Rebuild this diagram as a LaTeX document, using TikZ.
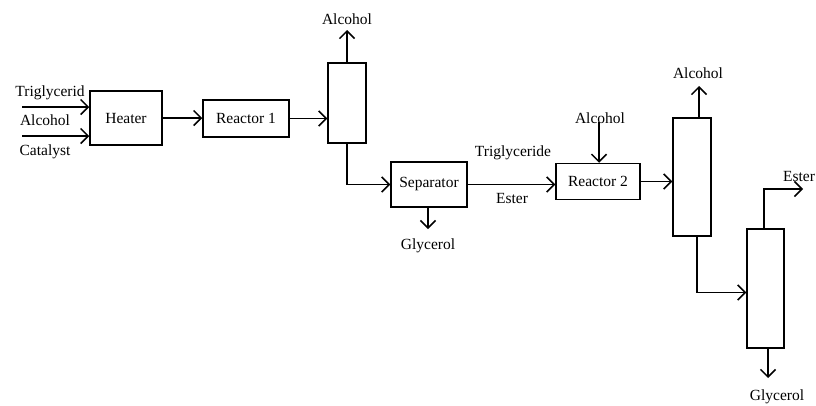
\documentclass[tikz,border=0pt]{standalone}
\usepackage{fontspec}
\setmainfont{Liberation Serif}
\usepackage{tikz}
\usetikzlibrary{positioning, arrows.meta, calc}

\tikzset{
  unit/.style={draw, line width=1.5pt, inner sep=0pt, font=\fontsize{15.5}{18}\selectfont},
  flow/.style={line width=1.5pt, -{Straight Barb[length=7.5pt, width=15pt, line width=1.5pt]}},
  stream/.style={inner sep=0pt, font=\fontsize{15.5}{18}\selectfont},
}

\begin{document}
\begin{tikzpicture}[x=1pt, y=-1pt]
  \useasboundingbox (0,0) rectangle (816,405);

  % units
  \node[unit, minimum width=72pt, minimum height=54pt] (heater) at (126,118) {Heater};
  \node[unit, minimum width=86pt, minimum height=37pt] (rea1) at (246,118.5) {Reactor 1};
  \node[unit, minimum width=38pt, minimum height=80pt] (col1) at (347,103) {};
  \node[unit, minimum width=76pt, minimum height=45pt] (sep) at (429,184.5) {Separator};
  \node[unit, minimum width=84pt, minimum height=36pt] (rea2) at (598,181.5) {Reactor 2};
  \node[unit, minimum width=38pt, minimum height=118pt] (col2) at (692,177) {};
  \node[unit, minimum width=37pt, minimum height=119pt] (col3) at (765.5,288.5) {};

  % stream labels
  \node[stream] (trig) at (50,93) {Triglycerid};
  \node[stream] (alc) at (45,120) {Alcohol};
  \node[stream] (cat) at (45,152) {Catalyst};
  \node[stream] (alcout1) at (347,19) {Alcohol};
  \node[stream] (gly1) at (428,246) {Glycerol};
  \node[stream] (trig2) at (513,153) {Triglyceride};
  \node[stream] (ester1) at (512,198) {Ester};
  \node[stream] (alcin2) at (600,118) {Alcohol};
  \node[stream] (alcout2) at (698,73) {Alcohol};
  \node[stream] (ester2) at (799,176) {Ester};
  \node[stream] (gly2) at (777,397) {Glycerol};

  % free ends
  \coordinate (in1) at (22,107);
  \coordinate (in2) at (22,136);
  \coordinate (top1) at (347,30);
  \coordinate (bot1) at (428,229);
  \coordinate (top2) at (599,122);
  \coordinate (top3) at (699,86);
  \coordinate (out3) at (803,189);
  \coordinate (bot3) at (768,378);

  % connectors
  \draw[flow] (in1) -- (in1 -| heater.west);
  \draw[flow] (in2) -- (in2 -| heater.west);
  \draw[flow] (heater.east) -- (heater.east -| rea1.west);
  \draw[flow] (rea1.east) -- (rea1.east -| col1.west);
  \draw[flow] (col1.north) -- (top1);
  \draw[flow] (col1.south) |- (sep.west);
  \draw[flow] (bot1 |- sep.south) -- (bot1);
  \draw[flow] (sep.east) -- (sep.east -| rea2.west);
  \draw[flow] (top2) -- (top2 |- rea2.north);
  \draw[flow] (rea2.east) -- (rea2.east -| col2.west);
  \draw[flow] (top3 |- col2.north) -- (top3);
  \draw[flow] ([xshift=5pt]col2.south) |- ([yshift=-4pt]col3.west);
  \draw[flow] ([xshift=-1.5pt]col3.north) |- (out3);
  \draw[flow] (bot3 |- col3.south) -- (bot3);
\end{tikzpicture}
\end{document}
